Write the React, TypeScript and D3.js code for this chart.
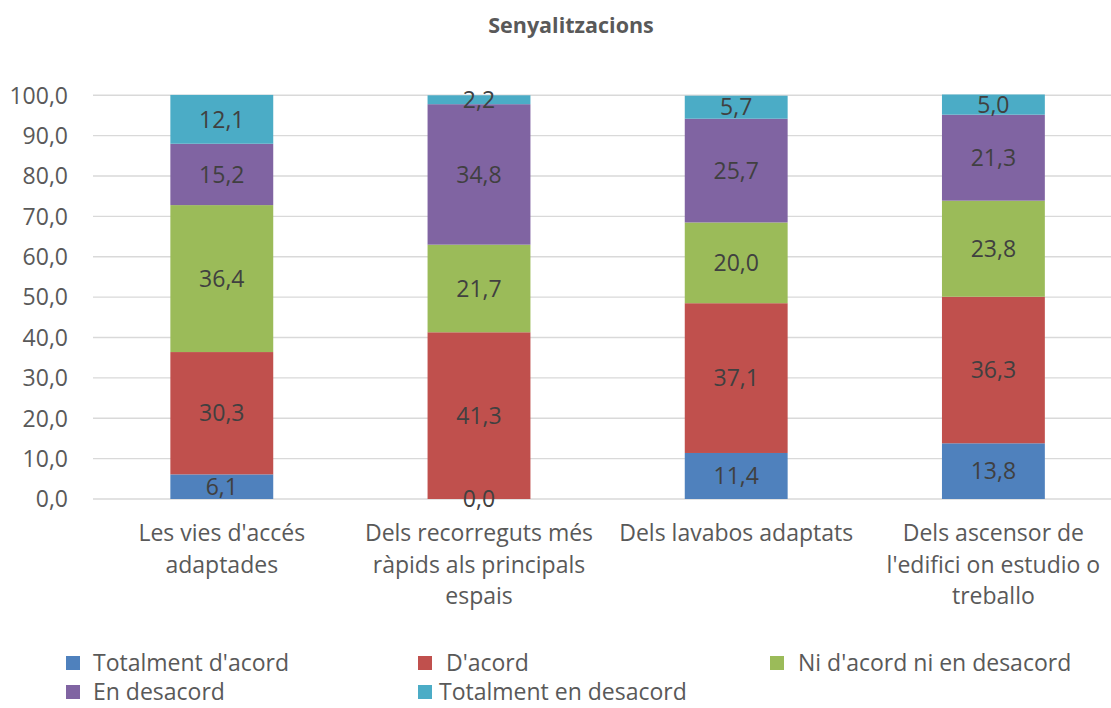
import React from "react";
import * as d3 from "d3";

const title = "Senyalitzacions";
const categories = [
  "Les vies d'accés adaptades",
  "Dels recorreguts més ràpids als principals espais",
  "Dels lavabos adaptats",
  "Dels ascensor de l'edifici on estudio o treballo",
];
const categoryLines = [
  ["Les vies d'accés", "adaptades"],
  ["Dels recorreguts més", "ràpids als principals", "espais"],
  ["Dels lavabos adaptats"],
  ["Dels ascensor de", "l'edifici on estudio o", "treballo"],
];
const seriesNames = [
  "Totalment d'acord",
  "D'acord",
  "Ni d'acord ni en desacord",
  "En desacord",
  "Totalment en desacord",
];
const totalmentAcord = [6.1, 0.0, 11.4, 13.8];
const acord = [30.3, 41.3, 37.1, 36.3];
const niAcord = [36.4, 21.7, 20.0, 23.8];
const desacord = [15.2, 34.8, 25.7, 21.3];
const totalmentDesacord = [12.1, 2.2, 5.7, 5.0];
const yTicks = [0, 10, 20, 30, 40, 50, 60, 70, 80, 90, 100];
const colors = ["#4F81BD", "#C0504D", "#9BBB59", "#8064A2", "#4BACC6"];

const seriesValues = [totalmentAcord, acord, niAcord, desacord, totalmentDesacord];

const W = 1111;
const H = 708;
const FONT = "'Open Sans', sans-serif";
const fmt = (v: number) => v.toFixed(1).replace(".", ",");

export default function App() {
  const x = d3
    .scaleBand<string>()
    .domain(categories)
    .range([93.2, 1122])
    .paddingInner(0.6)
    .paddingOuter(0.3);
  const y = d3.scaleLinear().domain([0, 100]).range([499, 95.3]);

  const rows = categories.map((c, i) => {
    const r: any = { cat: c };
    seriesNames.forEach((s, k) => (r[s] = seriesValues[k][i]));
    return r;
  });
  const stacked = d3.stack<any>().keys(seriesNames)(rows);

  const legendPos = [
    { sx: 66, tx: 93, y: 663 },
    { sx: 418, tx: 439, y: 663 },
    { sx: 770, tx: 798, y: 663 },
    { sx: 66, tx: 93, y: 692 },
    { sx: 418, tx: 439, y: 692 },
  ];

  return (
    <svg
      width={W}
      height={H}
      style={{ position: "absolute", left: 0, top: 0, background: "#fff" }}
      fontFamily={FONT}
    >
      <rect x={0} y={0} width={W} height={H} fill="#fff" />
      <text
        x={571}
        y={33}
        textAnchor="middle"
        fontSize={21.5}
        fontWeight="bold"
        fill="#595959"
      >
        {title}
      </text>
      {yTicks.map((t) => (
        <g key={t}>
          <line
            x1={93}
            x2={W}
            y1={y(t)}
            y2={y(t)}
            stroke="#D9D9D9"
            strokeWidth={1.4}
          />
          <text
            x={68}
            y={y(t)}
            dy="0.36em"
            textAnchor="end"
            fontSize={23}
            fill="#595959"
          >
            {fmt(t)}
          </text>
        </g>
      ))}
      {stacked.map((layer, k) => (
        <g key={layer.key}>
          {layer.map((d, i) => (
            <rect
              key={i}
              x={x(categories[i])}
              width={x.bandwidth()}
              y={y(d[1])}
              height={Math.max(0, y(d[0]) - y(d[1]))}
              fill={colors[k]}
            />
          ))}
        </g>
      ))}
      {stacked.map((layer, k) => (
        <g key={"l" + layer.key}>
          {layer.map((d, i) => (
            <text
              key={i}
              x={(x(categories[i]) as number) + x.bandwidth() / 2}
              y={(y(d[0]) + y(d[1])) / 2}
              dy="0.36em"
              textAnchor="middle"
              fontSize={23}
              fill="#404040"
            >
              {fmt(seriesValues[k][i])}
            </text>
          ))}
        </g>
      ))}
      {categoryLines.map((lines, i) => (
        <text
          key={i}
          textAnchor="middle"
          fontSize={23}
          fill="#595959"
        >
          {lines.map((ln, j) => (
            <tspan
              key={j}
              x={(x(categories[i]) as number) + x.bandwidth() / 2}
              y={541 + j * 31.5}
            >
              {ln}
            </tspan>
          ))}
        </text>
      ))}
      {seriesNames.map((s, k) => (
        <g key={s}>
          <rect
            x={legendPos[k].sx}
            y={legendPos[k].y - 7}
            width={14}
            height={14}
            fill={colors[k]}
          />
          <text
            x={legendPos[k].tx + (k === 1 ? 7 : 0)}
            y={legendPos[k].y}
            dy="0.36em"
            fontSize={23}
            fill="#595959"
          >
            {s}
          </text>
        </g>
      ))}
    </svg>
  );
}
